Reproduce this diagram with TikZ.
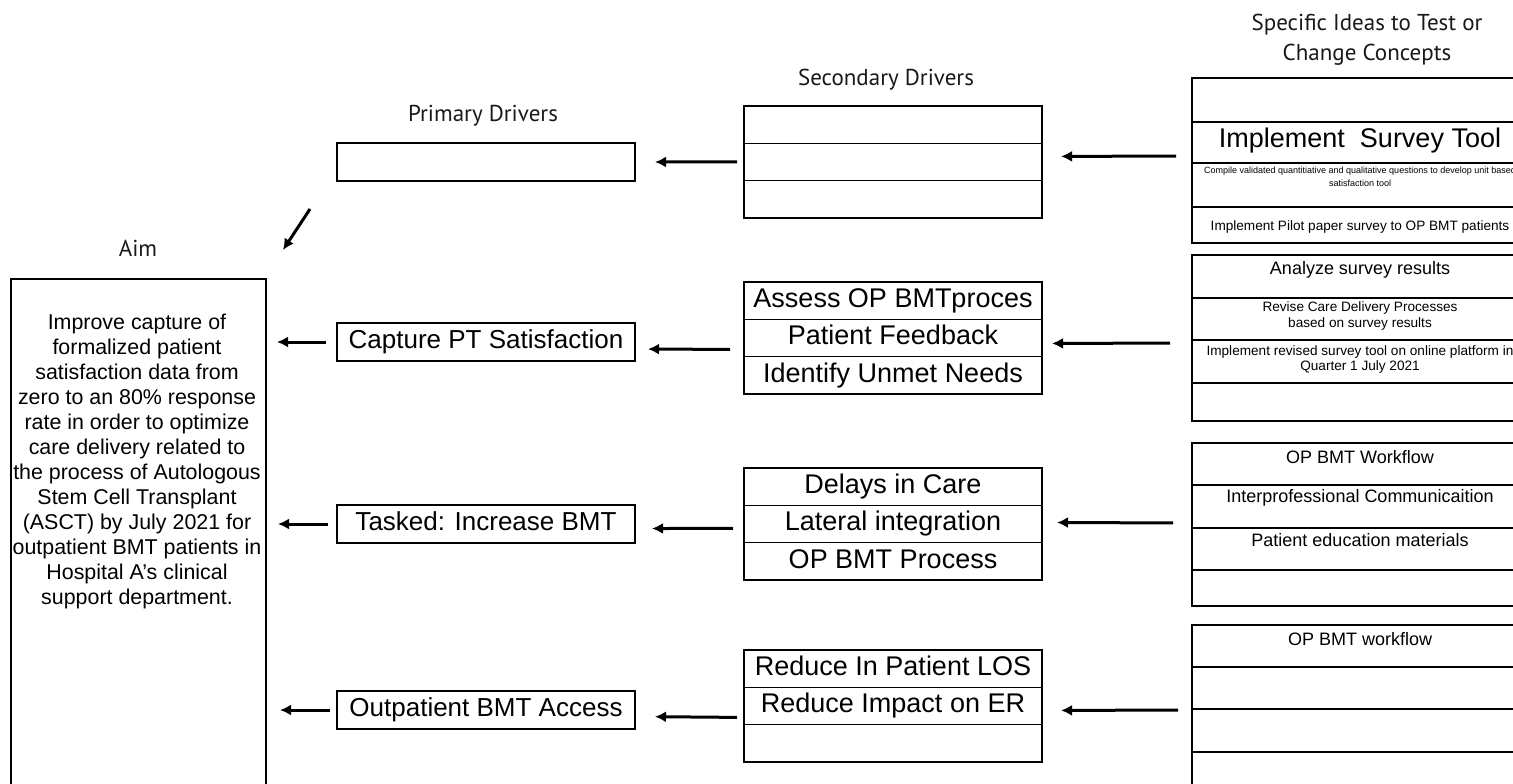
\documentclass[tikz,border=0pt]{standalone}
\usepackage{fontspec}
\setmainfont{Liberation Sans}
\newfontfamily\headfont{PT Sans}
\usetikzlibrary{arrows.meta,calc}
\newlength{\du}
\setlength{\du}{0.5pt}
\definecolor{dialinecolor}{rgb}{0.000000, 0.000000, 0.000000}
\definecolor{diafillcolor}{rgb}{1.000000, 1.000000, 1.000000}
\definecolor{diatextcolor}{rgb}{0.100000, 0.100000, 0.100000}

\begin{document}
\begin{tikzpicture}[yscale=-1,
  cell/.style={draw=dialinecolor,fill=diafillcolor,line width=1.6\du,anchor=north west,inner sep=0pt,outer sep=0pt},
  pcell/.style={cell,minimum width=298\du,minimum height=38\du,text height=9.4pt,text depth=2.7pt,font=\fontsize{13}{15}\selectfont},
  scell/.style={cell,minimum width=298\du,minimum height=37.3\du,text height=9.7pt,text depth=2.8pt,font=\fontsize{13.5}{16}\selectfont},
  icell/.style={cell,minimum width=336\du,line width=2\du},
  head/.style={inner sep=0pt,outer sep=0pt,color=diatextcolor,align=center,font=\headfont\fontsize{11.5}{15}\selectfont},
  txt/.style={inner sep=0pt,outer sep=0pt,align=center,color=dialinecolor},
  arrowline/.style={draw=dialinecolor,line width=1.5pt,-{Latex[length=5.5pt,width=5.5pt]}}]
\useasboundingbox (0\du,0\du) rectangle (1513\du,783\du);
% headings
\node[head] (hideas) at (1367\du,40\du){Specific Ideas to Test or\\Change Concepts};
\node[head] (hsec) at (886\du,79.5\du){Secondary Drivers};
\node[head] (hprim) at (483\du,115.5\du){Primary Drivers};
\node[head] (haim) at (138\du,248\du){Aim};
% aim
\node[cell,line width=2\du,minimum width=255\du,minimum height=530\du] (aim) at (11\du,279\du){};
\node[txt,font=\fontsize{10.7}{12.5}\selectfont] (aimtext) at (137\du,461.5\du){Improve capture of\\formalized patient\\satisfaction data from\\zero to an 80\% response\\rate in order to optimize\\care delivery related to\\the process of Autologous\\Stem Cell Transplant\\(ASCT) by July 2021 for\\outpatient BMT patients in\\Hospital A’s clinical\\support department.};
% primary drivers
\node[pcell] (p1) at (337\du,143\du){};
\node[pcell] (p2) at (337\du,323\du){Capture PT Satisfaction};
\node[pcell] (p3) at (337\du,505\du){Tasked: Increase BMT};
\node[pcell] (p4) at (337\du,691\du){Outpatient BMT Access};
% secondary drivers
\node[scell] (s1a) at (744\du,106\du){};
\node[scell] (s1b) at (744\du,143.3\du){};
\node[scell] (s1c) at (744\du,180.6\du){};
\node[scell] (s2a) at (744\du,282\du){Assess OP BMTproces};
\node[scell] (s2b) at (744\du,319.3\du){Patient Feedback};
\node[scell] (s2c) at (744\du,356.6\du){Identify Unmet Needs};
\node[scell] (s3a) at (744\du,468\du){Delays in Care};
\node[scell] (s3b) at (744\du,505.3\du){Lateral integration};
\node[scell] (s3c) at (744\du,542.6\du){OP BMT Process};
\node[scell] (s4a) at (744\du,650\du){Reduce In Patient LOS};
\node[scell] (s4b) at (744\du,687.3\du){Reduce Impact on ER};
\node[scell] (s4c) at (744\du,724.6\du){};
% specific ideas
\node[icell,minimum height=44\du] (r1a) at (1192\du,78\du){};
\node[icell,minimum height=41\du] (r1b) at (1192\du,122\du){};
\node[icell,minimum height=44\du] (r1c) at (1192\du,163\du){};
\node[icell,minimum height=36\du] (r1d) at (1192\du,207\du){};
\node[icell,minimum height=43\du] (r2a) at (1192\du,255\du){};
\node[icell,minimum height=42\du] (r2b) at (1192\du,298\du){};
\node[icell,minimum height=43\du] (r2c) at (1192\du,340\du){};
\node[icell,minimum height=38\du] (r2d) at (1192\du,383\du){};
\node[icell,minimum height=42\du] (r3a) at (1192\du,443\du){};
\node[icell,minimum height=43\du] (r3b) at (1192\du,485\du){};
\node[icell,minimum height=42\du] (r3c) at (1192\du,528\du){};
\node[icell,minimum height=36\du] (r3d) at (1192\du,570\du){};
\node[icell,minimum height=42\du] (r4a) at (1192\du,625\du){};
\node[icell,minimum height=42\du] (r4b) at (1192\du,667\du){};
\node[icell,minimum height=43\du] (r4c) at (1192\du,709\du){};
\node[icell,minimum height=60\du] (r4d) at (1192\du,752\du){};
% setfont left to latex
\node[txt,font=\fontsize{13.5}{16}\selectfont] (t1b) at (1360\du,141\du){Implement\ \ Survey Tool};
\node[txt,font=\fontsize{4.5}{6.5}\selectfont] (t1c) at (1360\du,176.5\du){Compile validated quantitiative and qualitative questions to develop unit based\\satisfaction tool};
\node[txt,font=\fontsize{6.8}{8}\selectfont] (t1d) at (1360\du,227\du){Implement Pilot paper survey to OP BMT patients};
\node[txt,font=\fontsize{9}{11}\selectfont] (t2a) at (1360\du,270\du){Analyze survey results};
\node[txt,font=\fontsize{6.8}{8}\selectfont] (t2b) at (1360\du,316\du){Revise Care Delivery Processes\\based on survey results};
\node[txt,font=\fontsize{6.8}{7.5}\selectfont] (t2c) at (1360\du,359.5\du){Implement revised survey tool on online platform in\\Quarter 1 July 2021};
\node[txt,font=\fontsize{9}{11}\selectfont] (t3a) at (1360\du,457\du){OP BMT Workflow};
\node[txt,font=\fontsize{9}{11}\selectfont] (t3b) at (1360\du,498\du){Interprofessional Communicaition};
\node[txt,font=\fontsize{9}{11}\selectfont] (t3c) at (1360\du,540\du){Patient education materials};
\node[txt,font=\fontsize{9}{11}\selectfont] (t4a) at (1360\du,639\du){OP BMT workflow};
% primary to aim
\draw[arrowline,shorten <=5.5pt,shorten >=5.5pt] (p2.west) -- (p2.west -| aim.east);
\draw[arrowline,shorten <=4.5pt,shorten >=6pt] (p3.west) -- (p3.west -| aim.east);
\draw[arrowline,shorten <=3.5pt,shorten >=7pt] (p4.west) -- (p4.west -| aim.east);
\draw[arrowline] ($(p1.south west)+(-27\du,28\du)$) -- ($(p1.south west)+(-54\du,69\du)$);
% secondary to primary
\draw[arrowline,shorten <=3.5pt,shorten >=10pt] (s1b.west) -- (p1.east);
\draw[arrowline,shorten <=7pt,shorten >=6.5pt] ($(s2b.west)+(0,11.5\du)$) -- ($(p2.east)+(0,7\du)$);
\draw[arrowline,shorten <=5.5pt,shorten >=8.5pt] ($(s3b.west)+(0,4.5\du)$) -- ($(p3.east)+(0,4.5\du)$);
\draw[arrowline,shorten <=3.5pt,shorten >=10pt] ($(s4b.west)+(0,11.5\du)$) -- ($(p4.east)+(0,6.5\du)$);
% ideas to secondary
\draw[arrowline,shorten <=8pt,shorten >=9.5pt] ($(r1b.west)+(0,13.5\du)$) -- ($(s1b.east)+(0,-5.5\du)$);
\draw[arrowline,shorten <=11pt,shorten >=5pt] ($(r2b.west)+(0,24\du)$) -- ($(s2b.east)+(0,5.5\du)$);
\draw[arrowline,shorten <=9.5pt,shorten >=7.5pt] ($(r3b.west)+(0,16.5\du)$) -- ($(s3b.east)+(0,-1.5\du)$);
\draw[arrowline,shorten <=7pt,shorten >=9.5pt] ($(r4b.west)+(0,22\du)$) -- ($(s4b.east)+(0,4.5\du)$);
\end{tikzpicture}
\end{document}
